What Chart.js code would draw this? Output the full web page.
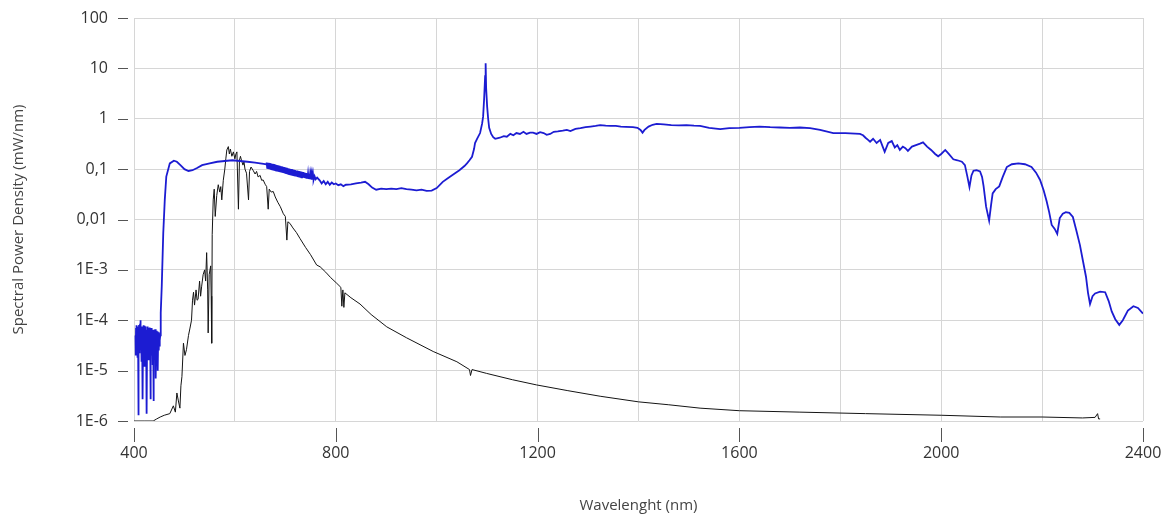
<!DOCTYPE html>
<html>
<head>
<meta charset="utf-8">
<script src="https://cdn.jsdelivr.net/npm/chart.js@4.4.1/dist/chart.umd.min.js"></script>
<style>
  html, body { margin: 0; padding: 0; background: #ffffff; }
  #wrap { width: 1167px; height: 517px; }
</style>
</head>
<body>
<div id="wrap"><canvas id="c" width="1167" height="517"></canvas></div>
<script>
// ---- Data ----
// Blue series: noisy floor 403-452 nm
const blueNoiseX = [403,403.5,404,404.5,405,405.5,406,406.5,407,407.5,408,408.5,409,409.5,410,410.5,411,411.5,412,412.5,413,413.5,414,414.5,415,415.5,416,416.5,417,417.5,418,418.5,419,419.5,420,420.5,421,421.5,422,422.5,423,423.5,424,424.5,425,425.5,426,426.5,427,427.5,428,428.5,429,429.5,430,430.5,431,431.5,432,432.5,433,433.5,434,434.5,435,435.5,436,436.5,437,437.5,438,438.5,439,439.5,440,440.5,441,441.5,442,442.5,443,443.5,444,444.5,445,445.5,446,446.5,447,447.5,448,448.5,449,449.5,450,450.5,451,451.5,452];
const blueNoiseY = [5e-5,2e-5,7e-5,3e-5,8e-5,2.5e-5,6.5e-5,1.8e-5,7.5e-5,3e-5,6e-5,1.3e-6,7e-5,2.8e-5,8e-5,2.2e-5,7e-5,3.2e-5,8.5e-5,2.6e-5,1e-4,3e-5,7e-5,1.5e-5,6.5e-5,3e-5,7.5e-5,2.4e-5,6e-5,2.7e-6,6.5e-5,2.8e-5,8e-5,2.2e-5,7e-5,3.3e-5,7.8e-5,1.2e-5,6.8e-5,2.6e-5,7.5e-5,3e-5,6.5e-5,2.2e-5,6e-5,1.4e-6,6.5e-5,3e-5,7.5e-5,2.5e-5,6.8e-5,1.6e-5,7e-5,2.8e-5,6.5e-5,3.2e-5,7.2e-5,2.3e-5,6e-5,2.7e-6,6.2e-5,2.7e-5,7e-5,2e-5,6.8e-5,3e-5,6.3e-5,1.3e-5,6.5e-5,2.8e-5,5.8e-5,2.5e-6,6e-5,2.8e-5,6.5e-5,2.2e-5,6e-5,3e-5,6.6e-5,1.8e-5,6e-5,7e-6,6e-5,3e-5,6.2e-5,2.4e-5,5.8e-5,2.8e-5,6e-5,1e-5,5.8e-5,3.2e-5,5.5e-5,2.5e-5,5.5e-5,3e-5,5.2e-5,4e-5,5e-5];
// Blue series: rise and first plateau 453-662 nm
const blueRiseX = [453,455,458,461,464,471,479,485,492,500,508,516,525,535,550,565,580,595,610,625,640,650,657,662];
const blueRiseY = [1.4e-4,4.7e-4,5.4e-3,0.0245,0.071,0.13,0.147,0.14,0.12,0.1,0.092,0.095,0.105,0.12,0.13,0.14,0.145,0.15,0.145,0.14,0.135,0.13,0.127,0.124];
// Blue series: ripple band 663-763 nm
const blueBandX = [663,664,665,666,667,668,669,670,671,672,673,674,675,676,677,678,679,680,681,682,683,684,685,686,687,688,689,690,691,692,693,694,695,696,697,698,699,700,701,702,703,704,705,706,707,708,709,710,711,712,713,714,715,716,717,718,719,720,721,722,723,724,725,726,727,728,729,730,731,732,733,734,735,736,737,738,739,740,741,742,743,744,745,746,747,748,749,750,751,752,753,754,755,756,758,760,763];
const blueBandY = [0.135,0.106,0.134,0.105,0.133,0.104,0.132,0.102,0.13,0.1,0.128,0.099,0.127,0.098,0.126,0.097,0.124,0.096,0.122,0.094,0.12,0.093,0.119,0.092,0.117,0.091,0.116,0.09,0.114,0.089,0.113,0.088,0.111,0.087,0.11,0.086,0.108,0.084,0.107,0.083,0.106,0.082,0.104,0.081,0.103,0.08,0.101,0.079,0.1,0.078,0.1,0.077,0.098,0.076,0.097,0.075,0.096,0.074,0.094,0.074,0.094,0.073,0.092,0.072,0.091,0.071,0.09,0.07,0.089,0.069,0.088,0.068,0.087,0.068,0.085,0.067,0.084,0.066,0.083,0.065,0.082,0.065,0.081,0.064,0.08,0.063,0.079,0.063,0.078,0.062,0.077,0.062,0.076,0.061,0.072,0.063,0.068];
// Blue series: 768-1988 nm
const blueMidX = [768,772,776,780,784,788,792,796,800,805,810,815,820,830,840,850,858,865,872,880,890,900,910,920,930,940,950,960,970,980,990,1000,1012,1022,1032,1045,1055,1060,1065,1070,1074,1076,1080,1086,1090,1092,1094,1096,1097,1098,1100,1102,1104,1108,1112,1116,1125,1133,1139,1146,1152,1158,1165,1172,1178,1185,1191,1198,1205,1212,1218,1225,1232,1240,1250,1258,1265,1275,1285,1295,1305,1315,1324,1335,1345,1355,1365,1375,1389,1398,1404,1408,1412,1420,1428,1436,1450,1465,1480,1495,1510,1522,1540,1562,1580,1600,1620,1640,1661,1680,1700,1720,1740,1760,1786,1810,1839,1845,1850,1855,1859,1865,1872,1879,1884,1888,1895,1902,1908,1913,1918,1924,1929,1934,1942,1950,1958,1964,1972,1980,1988];
const blueMidY = [0.06,0.052,0.058,0.05,0.056,0.049,0.054,0.05,0.052,0.048,0.05,0.046,0.049,0.05,0.052,0.054,0.056,0.05,0.043,0.039,0.041,0.04,0.041,0.04,0.042,0.04,0.039,0.038,0.039,0.037,0.0375,0.042,0.056,0.066,0.077,0.095,0.115,0.13,0.15,0.176,0.25,0.33,0.4,0.52,0.8,1.1,2.5,7,12.6,4,1.74,1.0,0.66,0.5,0.43,0.40,0.42,0.45,0.44,0.5,0.47,0.52,0.5,0.55,0.5,0.53,0.53,0.5,0.54,0.52,0.48,0.5,0.55,0.56,0.58,0.6,0.57,0.63,0.65,0.68,0.7,0.72,0.75,0.73,0.72,0.72,0.7,0.69,0.68,0.66,0.6,0.53,0.6,0.7,0.76,0.79,0.77,0.75,0.74,0.75,0.73,0.72,0.66,0.62,0.65,0.66,0.68,0.7,0.68,0.67,0.66,0.67,0.65,0.6,0.52,0.52,0.50,0.47,0.42,0.38,0.35,0.4,0.33,0.38,0.28,0.22,0.33,0.36,0.27,0.3,0.24,0.28,0.26,0.23,0.28,0.3,0.32,0.34,0.28,0.24,0.2];
// Blue series: absorption region 1994-2400 nm
const blueTailX = [1994,2000,2008,2015,2024,2032,2041,2047,2052,2056,2060,2064,2070,2077,2081,2084,2089,2095,2099,2102,2108,2115,2122,2130,2140,2153,2166,2179,2188,2196,2203,2209,2214,2219,2225,2230,2235,2241,2247,2254,2261,2268,2275,2281,2287,2291,2295,2300,2305,2315,2325,2332,2338,2345,2353,2360,2370,2381,2390,2400];
const blueTailY = [0.18,0.2,0.24,0.2,0.157,0.15,0.14,0.12,0.07,0.044,0.075,0.093,0.095,0.09,0.07,0.046,0.018,0.0095,0.02,0.033,0.04,0.0455,0.07,0.11,0.125,0.13,0.125,0.11,0.085,0.061,0.038,0.023,0.014,0.0078,0.0065,0.0052,0.0107,0.013,0.014,0.0135,0.0112,0.006,0.0031,0.0015,0.00073,0.00035,0.00021,0.0003,0.00034,0.00037,0.00036,0.00024,0.00015,0.000105,0.000081,0.0001,0.000155,0.00019,0.000175,0.000136];

// Black series
const blackX = [400,420,438,445,452,460,471,478,482,485,488,491,493,495,498,501,504,508,511,514,516,518,520,523,525,527,530,532,534,537,540,542,544,546,547,549,552,553,554,555,557,559,561,564,567,570,572,574,577,580,582,584,587,589,591,594,597,600,602,604,607,609,611,613,616,618,620,623,627,629,632,636,640,643,646,650,653,656,660,663,666,668,672,676,680,685,690,696,700,703,705,709,715,722,729,740,750,762,769,780,790,802,810,812,814,816,818,830,848,870,901,940,993,1040,1065,1067,1070,1099,1150,1198,1260,1324,1400,1460,1522,1600,1720,1850,2000,2117,2200,2280,2305,2310,2312,2315];
const blackY = [1e-6,1e-6,1e-6,1.1e-6,1.2e-6,1.3e-6,1.4e-6,2e-6,1.5e-6,3.6e-6,2.5e-6,1.8e-6,5e-6,7.6e-6,3.5e-5,2e-5,2.6e-5,5e-5,7e-5,1e-4,2.5e-4,3.6e-4,2e-4,4e-4,2.5e-4,2.6e-4,6e-4,3e-4,4.6e-4,8e-4,1e-3,6e-4,2.2e-3,4e-4,5.6e-5,8e-4,1.2e-3,3e-4,3.5e-5,5e-3,0.0245,0.04,0.0115,0.03,0.049,0.035,0.045,0.0245,0.06,0.1,0.16,0.24,0.28,0.2,0.25,0.18,0.22,0.16,0.2,0.22,0.016,0.15,0.18,0.15,0.12,0.14,0.1,0.083,0.0245,0.09,0.11,0.095,0.08,0.09,0.07,0.075,0.06,0.061,0.05,0.045,0.016,0.04,0.035,0.036,0.028,0.022,0.018,0.013,0.0115,0.0039,0.009,0.0084,0.0068,0.0055,0.0042,0.0028,0.002,0.00125,0.00115,0.0009,0.0007,0.00054,0.00045,0.00019,0.0004,0.00018,0.00035,0.00028,0.00021,0.00013,0.000074,0.000045,0.000024,0.000015,0.0000105,0.000008,0.0000105,0.0000088,0.0000066,0.0000052,0.000004,0.0000031,0.0000024,0.0000021,0.0000018,0.0000016,0.0000015,0.0000014,0.0000013,0.0000012,0.0000012,0.00000115,0.00000118,0.0000014,0.0000011,0.0000011];

const xTickValues = [400, 800, 1200, 1600, 2000, 2400];
const xTickLabels = ['400', '800', '1200', '1600', '2000', '2400'];
const yTickValues = [100, 10, 1, 0.1, 0.01, 1e-3, 1e-4, 1e-5, 1e-6];
const yTickLabels = ['100', '10', '1', '0,1', '0,01', '1E-3', '1E-4', '1E-5', '1E-6'];

const toPts = (xs, ys) => xs.map((x, i) => ({ x: x, y: ys[i] }));
const blueX = [].concat(blueNoiseX, blueRiseX, blueBandX, blueMidX, blueTailX);
const blueY = [].concat(blueNoiseY, blueRiseY, blueBandY, blueMidY, blueTailY);

const tickMarks = {
  id: 'tickMarks',
  afterDraw(chart) {
    const ctx = chart.ctx, a = chart.chartArea;
    const xs = chart.scales.x, ys = chart.scales.y;
    ctx.save();
    ctx.strokeStyle = '#555';
    ctx.lineWidth = 1;
    ctx.beginPath();
    yTickValues.forEach(v => {
      const y = Math.round(ys.getPixelForValue(v)) + 0.5;
      ctx.moveTo(a.left - 16, y); ctx.lineTo(a.left - 6, y);
    });
    xTickValues.forEach(v => {
      const x = Math.round(xs.getPixelForValue(v)) + 0.5;
      ctx.moveTo(x, a.bottom + 7); ctx.lineTo(x, a.bottom + 21);
    });
    ctx.stroke();
    ctx.restore();
  }
};

new Chart(document.getElementById('c'), {
  type: 'line',
  data: {
    datasets: [
      { label: 'Broadband', data: toPts(blueX, blueY), borderColor: '#1c1cd2', borderWidth: 1.8, pointRadius: 0, fill: false, tension: 0 },
      { label: 'Reference', data: toPts(blackX, blackY), borderColor: '#141414', borderWidth: 1, pointRadius: 0, fill: false, tension: 0 }
    ]
  },
  options: {
    responsive: false,
    animation: false,
    devicePixelRatio: 1,
    layout: { padding: { top: 18, right: 24, left: 0, bottom: 0 } },
    plugins: { legend: { display: false }, tooltip: { enabled: false } },
    scales: {
      x: {
        type: 'linear', min: 400, max: 2400,
        afterFit: s => { s.height = 96; s.paddingLeft = 0; s.paddingRight = 0; },
        ticks: {
          stepSize: 200, autoSkip: false, maxRotation: 0, padding: 23,
          color: '#333', font: { family: 'Open Sans', size: 16 },
          callback: v => { const i = xTickValues.indexOf(v); return i >= 0 ? xTickLabels[i] : ''; }
        },
        grid: { color: '#d6d6d6', lineWidth: 1, drawTicks: false },
        border: { display: false },
        title: { display: true, text: 'Wavelenght (nm)', color: '#444', font: { family: 'Open Sans', size: 15 }, padding: { top: 0, bottom: 2 } }
      },
      y: {
        type: 'logarithmic', min: 1e-6, max: 100,
        afterFit: s => { s.width = 134; s.paddingTop = 0; s.paddingBottom = 0; },
        afterBuildTicks: s => { s.ticks = yTickValues.map(v => ({ value: v })); },
        ticks: {
          autoSkip: false, padding: 26,
          color: '#333', font: { family: 'Open Sans', size: 16 },
          callback: v => { const i = yTickValues.findIndex(t => Math.abs(Math.log10(t) - Math.log10(v)) < 1e-6); return i >= 0 ? yTickLabels[i] : ''; }
        },
        grid: { color: '#d6d6d6', lineWidth: 1, drawTicks: false },
        border: { display: false },
        title: { display: true, text: 'Spectral Power Density (mW/nm)', color: '#444', font: { family: 'Open Sans', size: 15 }, padding: { top: 10, bottom: 0 } }
      }
    }
  },
  plugins: [tickMarks]
});
</script>
</body>
</html>
